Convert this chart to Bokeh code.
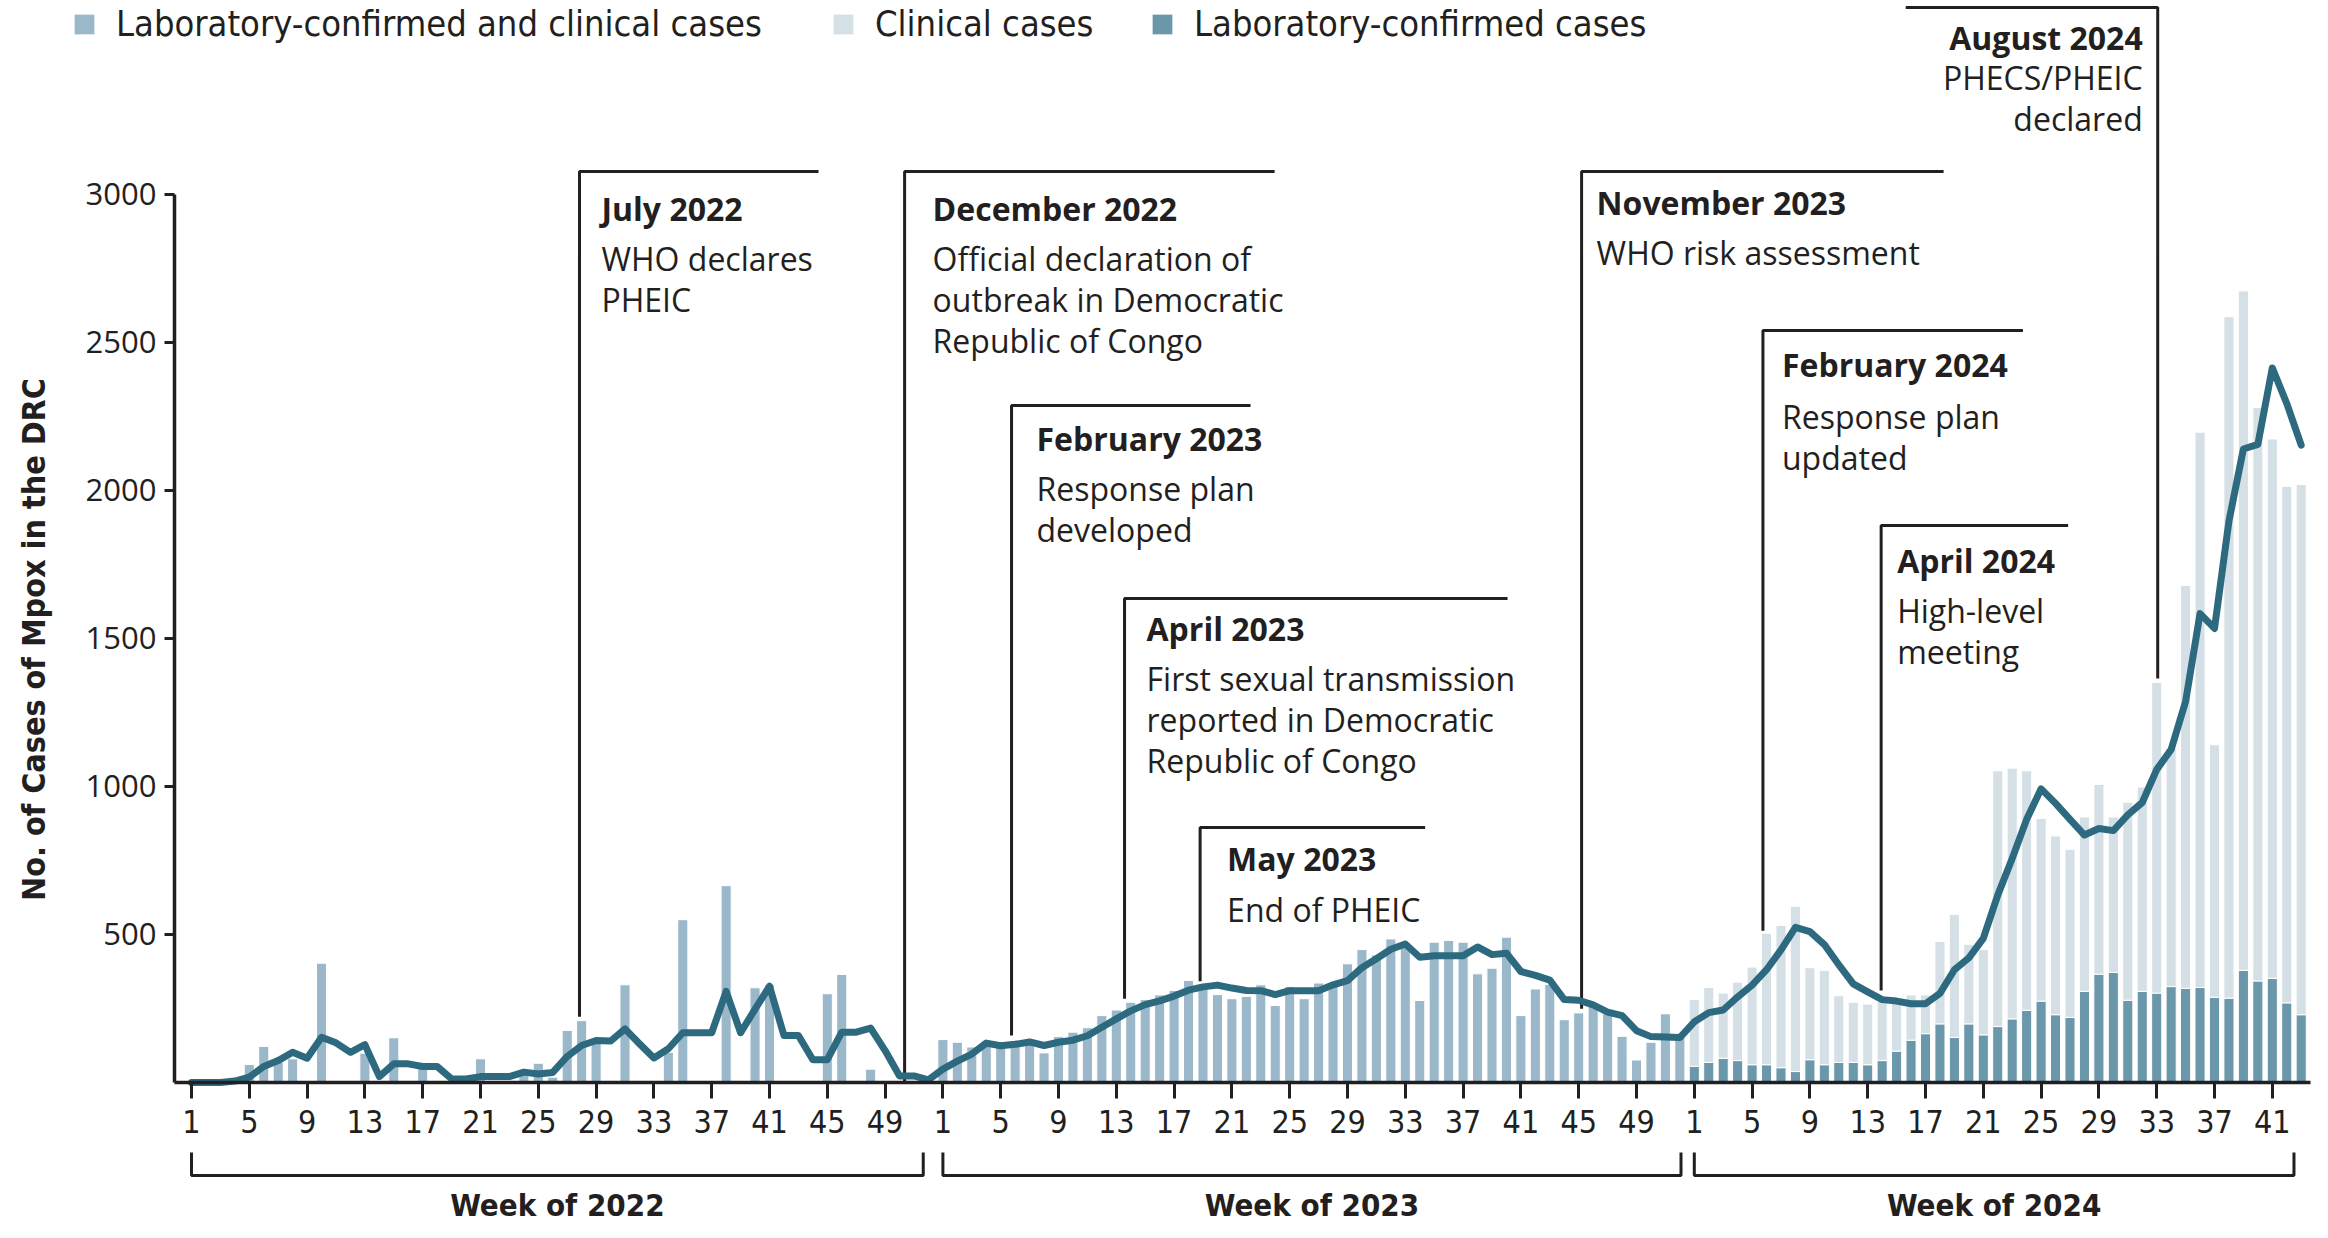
import math
from bokeh.plotting import figure
from bokeh.models import ColumnDataSource, Range1d, FixedTicker, Legend, LegendItem
from bokeh.core.properties import value
from bokeh.embed import file_html
from bokeh.resources import INLINE

# ---------------- data ----------------
weeks_2022 = list(range(1, 53))
weeks_2023 = list(range(1, 53))
weeks_2024 = list(range(1, 44))

# laboratory-confirmed and clinical cases (2022, 2023); 0 = no bar
cases_2022 = [0, 0, 0, 0, 61, 122, 68, 80, 0, 403,
              0, 0, 99, 0, 151, 0, 52, 0, 0, 0,
              80, 0, 0, 29, 65, 18, 176, 209, 140, 0,
              330, 0, 0, 102, 550, 0, 0, 665, 0, 320,
              330, 0, 0, 0, 300, 365, 0, 45, 0, 0,
              0, 0]
cases_2023 = [145, 136, 120, 140, 130, 140, 140, 100, 155, 170,
              185, 226, 245, 271, 280, 296, 311, 345, 327, 297,
              283, 291, 330, 260, 324, 283, 336, 325, 401, 449,
              431, 485, 460, 277, 474, 480, 474, 367, 386, 491,
              226, 316, 331, 212, 235, 260, 232, 156, 76, 136,
              232, 153]
# 2024: laboratory-confirmed and clinical cases (stacked)
lab_2024 = [55, 68, 82, 74, 60, 60, 50, 37, 77, 60,
            68, 68, 60, 74, 106, 143, 165, 198, 152, 198,
            161, 189, 215, 244, 275, 229, 220, 308, 366, 372,
            278, 308, 302, 324, 318, 321, 288, 285, 379, 343,
            352, 269, 229]
clinical_2024 = [225, 253, 220, 265, 330, 444, 481, 558, 311, 319,
                 225, 203, 205, 200, 177, 153, 131, 278, 416, 269,
                 288, 864, 847, 809, 617, 604, 568, 589, 641, 525,
                 669, 690, 1049, 806, 1361, 1876, 853, 2302, 2295, 1937,
                 1822, 1745, 1791]
# smoothed trend line
trend_2022 = [0, 0, 0, 5, 18, 54, 74, 102, 82, 153,
              134, 102, 128, 20, 63, 63, 54, 54, 12, 12,
              20, 20, 20, 35, 29, 34, 88, 125, 142, 140,
              181, 131, 83, 114, 168, 168, 168, 308, 168, 248,
              325, 159, 159, 77, 77, 170, 170, 184, 108, 22,
              22, 9]
trend_2023 = [45, 72, 96, 133, 124, 129, 137, 125, 136, 143,
              158, 187, 215, 242, 263, 276, 292, 312, 323, 329,
              319, 311, 310, 297, 310, 310, 310, 330, 344, 388,
              418, 450, 468, 423, 428, 428, 428, 458, 432, 437,
              375, 362, 346, 280, 278, 262, 238, 226, 175, 155,
              154, 152]
trend_2024 = [205, 236, 245, 289, 329, 381, 448, 524, 510, 466,
              398, 333, 306, 280, 275, 266, 266, 301, 381, 421,
              487, 633, 757, 889, 992, 943, 889, 836, 858, 851,
              904, 946, 1057, 1125, 1287, 1584, 1534, 1897, 2140, 2156,
              2414, 2294, 2153]

tick_weeks_2022 = [1, 5, 9, 13, 17, 21, 25, 29, 33, 37, 41, 45, 49]
tick_weeks_2023 = [1, 5, 9, 13, 17, 21, 25, 29, 33, 37, 41, 45, 49]
tick_weeks_2024 = [1, 5, 9, 13, 17, 21, 25, 29, 33, 37, 41]
y_ticks = [500, 1000, 1500, 2000, 2500, 3000]
year_titles = ["Week of 2022", "Week of 2023", "Week of 2024"]
legend_labels = ["Laboratory-confirmed and clinical cases", "Clinical cases",
                 "Laboratory-confirmed cases"]
y_title = "No. of Cases of Mpox in the DRC"

event_titles = ["July 2022", "December 2022", "February 2023", "April 2023", "May 2023",
                "November 2023", "February 2024", "April 2024", "August 2024"]
event_texts = [["WHO declares", "PHEIC"],
               ["Official declaration of", "outbreak in Democratic", "Republic of Congo"],
               ["Response plan", "developed"],
               ["First sexual transmission", "reported in Democratic", "Republic of Congo"],
               ["End of PHEIC"],
               ["WHO risk assessment"],
               ["Response plan", "updated"],
               ["High-level", "meeting"],
               ["PHECS/PHEIC", "declared"]]
event_year = [2022, 2022, 2023, 2023, 2023, 2023, 2024, 2024, 2024]
event_week = [27.85, 50.35, 5.75, 13.57, 18.8, 45.2, 5.75, 13.93, 33.07]

# ---------------- layout (reference pixel geometry) ----------------
W, H = 2312, 1222
PXW = 14.45          # px per week
PXV = 0.29601        # px per case
X0 = 191             # pixel x of first week
BASE = 1082          # pixel y of zero


def X(px):
    return (px - X0) / PXW


def Y(py):
    return (BASE - py) / PXV


YEAR_OFFSET = {2022: 0, 2023: 52, 2024: 104}


def pos(year, week):
    return YEAR_OFFSET[year] + week - 1


INK = "#231f20"
C_BOTH = "#9bb8ca"
C_CLIN = "#d4e0e6"
C_LAB = "#6a97aa"
C_LINE = "#2d6a7f"
F_COND = "DejaVu Sans Condensed"
F_TEXT = "Open Sans"

p = figure(width=W, height=H,
           x_range=Range1d(X(0), X(W)), y_range=Range1d(Y(H), Y(0)),
           output_backend="svg", toolbar_location=None, min_border=0,
           outline_line_color=None, background_fill_color="white")
p.xgrid.visible = False
p.ygrid.visible = False

# ---- bars ----
src_a = ColumnDataSource(dict(
    x=[pos(2022, w) for w in weeks_2022] + [pos(2023, w) for w in weeks_2023],
    top=cases_2022 + cases_2023))
r_both = p.vbar(x="x", top="top", width=0.7, fill_color=C_BOTH,
                line_color="white", line_width=1, source=src_a)

src_b = ColumnDataSource(dict(x=[pos(2024, w) for w in weeks_2024],
                              lab=lab_2024, clinical=clinical_2024))
r_lab, r_clin = p.vbar_stack(["lab", "clinical"], x="x", width=0.7,
                             fill_color=[C_LAB, C_CLIN], line_color="white",
                             line_width=1, source=src_b)

# ---- event markers ----
ev_bottom = [222, 0, 159, 283, 342, 249, 513, 311, 1365]
ev_top_py = [171, 171, 405, 598, 827, 171, 330, 525, 7]
ev_len_px = [239, 370, 239, 383, 225, 362, 260, 187, -252]
ev_dx = [22, 28, 25, 22, 27, 15, 19, 16, -15]
ev_title_dy = [37, 37, 33, 30, 31, 31, 34, 35, 30]
ev_line0_dy = [87, 87, 83, 80, 82, 81, 86, 85, 70]

xs, ys = [], []
tl = dict(x=[], y=[], text=[], dy=[], dx=[])
tr = dict(x=[], y=[], text=[], dy=[], dx=[])
bl = dict(x=[], y=[], text=[], dy=[], dx=[])
br = dict(x=[], y=[], text=[], dy=[], dx=[])
for k in range(len(event_titles)):
    ex = pos(event_year[k], event_week[k])
    top = Y(ev_top_py[k])
    xs.append([ex, ex, ex + ev_len_px[k] / PXW])
    ys.append([ev_bottom[k], top, top])
    right = ev_len_px[k] < 0
    tgt_b = br if right else bl
    tgt_t = tr if right else tl
    dx = ev_dx[k]
    tgt_b["x"].append(ex); tgt_b["y"].append(top); tgt_b["text"].append(event_titles[k])
    tgt_b["dy"].append(ev_title_dy[k]); tgt_b["dx"].append(dx)
    for j, line in enumerate(event_texts[k]):
        tgt_t["x"].append(ex); tgt_t["y"].append(top); tgt_t["text"].append(line)
        tgt_t["dy"].append(ev_line0_dy[k] + 41 * j); tgt_t["dx"].append(dx)

p.multi_line(xs, ys, line_color=INK, line_width=3)

# ---- trend line ----
p.line([pos(2022, w) for w in weeks_2022] + [pos(2023, w) for w in weeks_2023] +
       [pos(2024, w) for w in weeks_2024],
       trend_2022 + trend_2023 + trend_2024,
       line_color=C_LINE, line_width=7, line_join="round", line_cap="round")

for d, align, style in ((bl, "left", "bold"), (br, "right", "bold"),
                        (tl, "left", "normal"), (tr, "right", "normal")):
    p.text(x="x", y="y", text="text", x_offset="dx", y_offset="dy",
           source=ColumnDataSource(d), text_align=align, text_baseline="middle",
           text_font=value(F_TEXT), text_font_style=style, text_font_size="32px",
           text_color=INK)

# ---- axes ----
yax = p.yaxis[0]
yax.fixed_location = X(174)
yax.bounds = (0, 3000)
yax.ticker = FixedTicker(ticks=y_ticks)
yax.major_tick_out = 10
yax.major_tick_in = 0
yax.minor_tick_line_color = None
yax.axis_line_width = 3.5
yax.axis_line_color = INK
yax.major_tick_line_width = 3
yax.major_tick_line_color = INK
yax.major_label_standoff = 8
yax.major_label_text_font = F_TEXT
yax.major_label_text_font_size = "31px"
yax.major_label_text_color = INK

xticks, xlabels = [], {}
for yr, tw in ((2022, tick_weeks_2022), (2023, tick_weeks_2023), (2024, tick_weeks_2024)):
    for w in tw:
        xticks.append(pos(yr, w))
        xlabels[pos(yr, w)] = str(w)
xax = p.xaxis[0]
xax.fixed_location = 0
xax.bounds = (X(174), X(2310))
xax.ticker = FixedTicker(ticks=xticks)
xax.major_label_overrides = xlabels
xax.major_tick_out = 16
xax.major_tick_in = 0
xax.minor_tick_line_color = None
xax.axis_line_width = 3.5
xax.axis_line_color = INK
xax.major_tick_line_width = 3
xax.major_tick_line_color = INK
xax.major_label_standoff = 11
xax.major_label_text_font = F_COND
xax.major_label_text_font_size = "32px"
xax.major_label_text_color = INK

# ---- year brackets ----
br_start = [pos(2022, 1), pos(2023, 1), pos(2024, 1)]
br_end = [50.64, 103.08, 145.5]
p.multi_line([[a, a, b, b] for a, b in zip(br_start, br_end)],
             [[Y(1152), Y(1175), Y(1175), Y(1152)]] * 3, line_color=INK, line_width=3)
p.text(x=[(a + b) / 2 for a, b in zip(br_start, br_end)], y=[Y(1204)] * 3,
       text=year_titles, text_align="center", text_baseline="middle",
       text_font=value(F_COND), text_font_style="bold", text_font_size="31px",
       text_color=INK)

# ---- y title ----
p.text(x=[X(33)], y=[Y(639)], text=[y_title], angle=math.pi / 2,
       text_align="center", text_baseline="middle", text_font=value(F_COND),
       text_font_style="bold", text_font_size="32px", text_color=INK)

# ---- legend ----
for r, lab, lx in ((r_both, legend_labels[0], 71), (r_clin, legend_labels[1], 830),
                   (r_lab, legend_labels[2], 1149)):
    lg = Legend(items=[LegendItem(label=lab, renderers=[r])], location=(lx, H - 44),
                orientation="horizontal", glyph_width=26, glyph_height=26,
                label_standoff=19, padding=0, margin=0, spacing=0,
                background_fill_alpha=0, border_line_color=None,
                label_text_font=F_COND, label_text_font_size="36px",
                label_text_color=INK, label_height=26)
    p.add_layout(lg, "center")

open("out.html", "w").write(file_html(p, INLINE))
